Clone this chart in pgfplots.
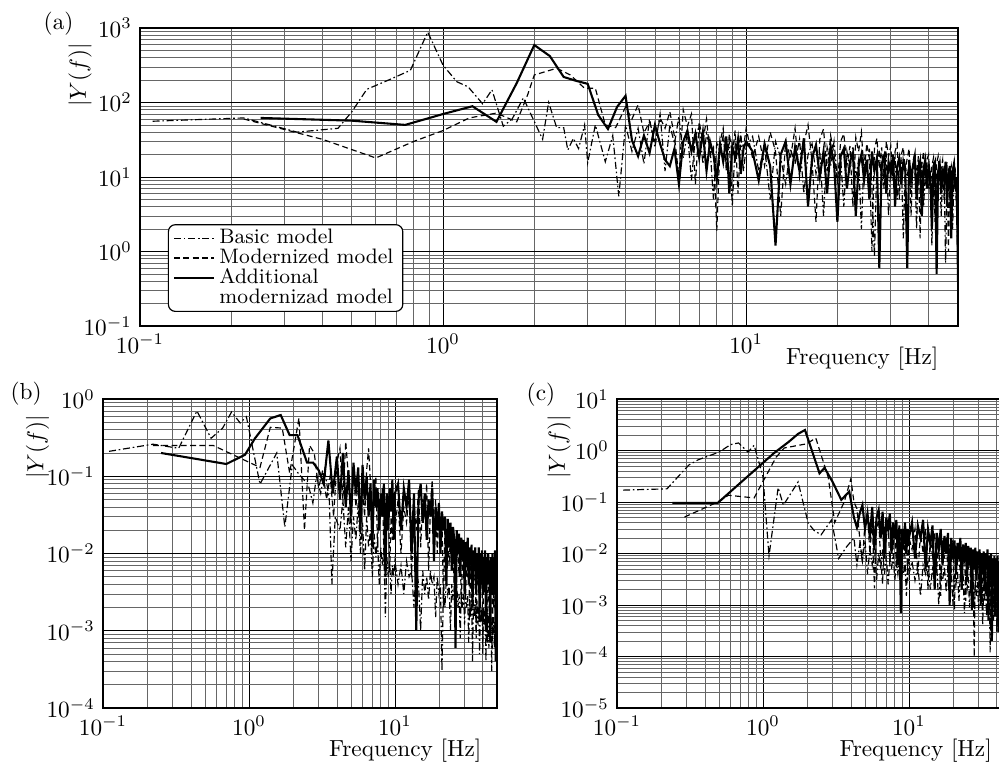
\documentclass[border=0pt]{standalone}
\usepackage{pgfplots}
\usepackage{pgfplotstable}
\pgfplotsset{compat=1.18}

\pgfplotstableread{
f B M A
0.11 56 nan nan
0.22 62 60 nan
0.25 nan nan 62
0.33 40 nan nan
0.40 nan 32 nan
0.45 45 nan nan
0.50 75 nan 57
0.56 150 nan nan
0.60 nan 18 nan
0.67 205 nan nan
0.75 nan nan 50
0.78 270 nan nan
0.80 nan 30 nan
0.89 880 nan nan
1.00 316 42 70
1.11 190 nan nan
1.21 162 nan nan
1.22 nan 62 nan
1.25 nan nan 89
1.35 96 nan nan
1.45 148 nan nan
1.50 nan 72 55
1.58 48 nan nan
1.69 60 nan nan
1.75 nan 55 182
1.84 115 nan nan
1.90 nan 126 nan
2.00 nan 234 590
2.13 32 nan nan
2.23 100 nan nan
2.25 nan nan 420
2.37 46 288 nan
2.50 46 nan 220
2.58 23 nan nan
2.63 nan 234 nan
2.69 33 nan nan
2.75 nan nan 195
2.80 24 nan nan
2.93 50 155 nan
3.00 15.5 nan 178
3.18 50 155 nan
3.25 nan nan 68
3.43 16 50 nan
3.50 nan nan 44
3.63 36 nan nan
3.71 nan 46 nan
3.75 nan nan 87
3.80 5.5 nan nan
4.00 50 87 123
4.2 22 60 31
4.4 45 93 19
4.6 15 39 36
4.8 60 55 21
5.0 25 30 50
5.2 70 62 28
5.4 12 45 17
5.6 50 75 14
5.8 28 35 24
6.0 65 10 8
6.2 18 80 30
6.4 40 48 42
6.6 9 70 22
6.8 35 8 38
7.0 48 55 18
7.2 15 30 40
7.4 38 60 12
7.6 25 20 30
7.8 5 25 20
8.0 30 1.9 9
8.2 22 30 28
8.4 36 45 16
8.6 14 12 35
8.8 30 38 6
9.0 4 20 26
9.2 28 42 18
9.4 20 6 32
9.6 40 33 11
9.8 12 25 24
10.0 25 45 30
10.5 35 18 22
11 12 35 9
11.5 26 14 28
12 5 40 14
12.5 30 22 1.2
13 18 3 20
13.5 8 30 30
14 24 18 8
14.5 15 45 25
15 32 10 12
15.5 6 28 33
16 20 50 4
16.5 28 16 18
17 11 2.5 27
17.5 22 32 10
18 3 44 22
18.5 25 12 6
19 14 36 26
19.5 30 20 15
20 9 8 2.5
20.5 18 30 19
21 4 38 24
21.5 22 14 7
22 13 26 16
22.5 26 4 21
23 10 34 3
23.5 17 22 14
24 2 40 20
24.5 20 11 9
25 12 28 17
25.5 24 18 5
26 7 1.0 22
26.5 0.85 24 12
27 16 33 18
27.5 21 13 0.6
28 8 25 15
28.5 14 7 19
29 19 30 6
29.5 3 19 16
30 15 26 11
30.5 12 9 20
31 18 22 4
31.5 5 28 14
32 13 5 18
32.5 17 20 8
33 1.5 25 16
33.5 14 12 12
34 10 18 0.6
34.5 16 24 17
35 6 3 9
35.5 12 16 14
36 15 21 19
36.5 2 10 5
37 13 19 12
37.5 9 1.5 16
38 16 15 3
38.5 4 22 13
39 11 8 17
39.5 14 17 7
40 7 20 15
40.5 12 6 10
41 1.2 14 2
41.5 10 18 14
42 13 2.5 16
42.5 5 15 0.5
43 11 19 12
43.5 14 9 15
44 3 13 6
44.5 10 17 13
45 12 5 9
45.5 0.7 12 16
46 9 16 4
46.5 13 1.0 11
47 6 11 14
47.5 11 14 1.5
48 2 7 12
48.5 10 13 15
49 12 10 7
49.5 4 3 10
50 0.6 8 0.4
}\tabA

\pgfplotstableread{
f B M A
0.11 0.21 nan nan
0.22 0.26 0.25 nan
0.25 nan nan 0.20
0.33 0.23 nan nan
0.44 0.70 nan nan
0.55 0.31 nan nan
0.57 nan 0.25 nan
0.66 0.42 nan nan
0.70 nan nan 0.144
0.76 0.68 nan nan
0.87 0.49 nan nan
0.94 nan nan 0.19
0.96 0.59 nan nan
1.10 nan nan 0.31
1.19 0.079 0.13 nan
1.40 nan 0.43 0.56
1.55 0.20 nan nan
1.65 nan nan 0.62
1.69 nan 0.42 nan
1.76 0.022 nan nan
1.90 nan 0.11 0.34
1.98 0.14 nan nan
2.15 nan nan 0.34
2.17 0.11 nan nan
2.20 nan 0.57 nan
2.40 nan 0.02 nan
2.50 nan nan 0.15
2.55 0.077 nan nan
2.60 nan 0.25 nan
2.74 0.045 nan nan
2.75 nan nan 0.15
2.80 nan 0.20 nan
2.90 0.10 nan nan
3.00 nan 0.07 0.12
3.10 0.06 nan nan
3.20 nan 0.12 nan
3.25 nan nan 0.08
3.30 0.12 nan nan
3.40 nan 0.05 nan
3.50 nan nan 0.29
3.55 0.05 nan nan
3.60 nan 0.10 nan
3.70 0.004 nan nan
3.75 nan nan 0.06
3.80 nan 0.03 nan
3.90 0.03 nan nan
4.00 nan 0.15 0.18
4.2 0.02 0.23 0.05
4.4 0.05 0.05 0.20
4.6 0.012 0.28 0.04
4.8 0.04 0.10 0.12
5.0 0.008 0.02 0.03
5.2 0.03 0.12 0.15
5.4 0.015 0.04 0.06
5.6 0.045 0.09 0.13
5.8 0.01 0.015 0.02
6.0 0.025 0.07 0.14
6.2 0.006 0.03 0.05
6.4 0.03 0.12 0.10
6.6 0.012 0.23 0.03
6.8 0.02 0.08 0.08
7.0 0.005 0.02 0.012
7.2 0.018 0.06 0.09
7.4 0.009 0.10 0.04
7.6 0.015 0.012 0.07
7.8 0.004 0.05 0.02
8.0 0.012 0.03 0.06
8.2 0.007 0.07 0.03
8.4 0.011 0.01 0.08
8.6 0.0015 0.04 0.005
8.8 0.009 0.02 0.06
9.0 0.005 0.05 0.02
9.2 0.008 0.006 0.07
9.4 0.003 0.03 0.035
9.6 0.007 0.015 0.09
9.8 0.005 0.04 0.015
10.0 0.008 0.02 0.06
10.5 0.004 0.05 0.08
11 0.007 0.01 0.02
11.5 0.003 0.04 0.07
12 0.008 0.025 0.04
12.5 0.005 0.06 0.09
13 0.006 0.005 0.01
13.5 0.002 0.045 0.06
14 0.007 0.02 0.001
14.5 0.004 0.07 0.05
15 0.001 0.012 0.08
15.5 0.006 0.05 0.025
16 0.003 0.03 0.06
16.5 0.005 0.08 0.015
17 0.0025 0.006 0.05
17.5 0.006 0.04 0.03
18 0.004 0.09 0.07
18.5 0.005 0.02 0.008
19 0.0015 0.05 0.04
19.5 0.005 0.01 0.02
20 0.003 0.035 0.045
20.5 0.004 0.02 0.01
21 0.0003 0.03 0.035
21.5 0.004 0.002 0.02
22 0.002 0.025 0.03
22.5 0.005 0.012 0.004
23 0.003 0.02 0.028
23.5 0.004 0.007 0.012
24 0.001 0.018 0.025
24.5 0.004 0.01 0.006
25 0.0025 0.016 0.022
25.5 0.0035 0.003 0.015
26 0.0015 0.014 0.0006
26.5 0.004 0.008 0.02
27 0.002 0.012 0.01
27.5 0.003 0.005 0.018
28 0.0008 0.011 0.005
28.5 0.0035 0.002 0.016
29 0.002 0.01 0.009
29.5 0.003 0.006 0.015
30 0.0012 0.009 0.003
30.5 0.003 0.003 0.014
31 0.002 0.008 0.008
31.5 0.0028 0.005 0.016
32 0.0007 0.009 0.004
32.5 0.0025 0.0015 0.012
33 0.0015 0.007 0.007
33.5 0.003 0.004 0.013
34 0.0004 0.008 0.002
34.5 0.0025 0.003 0.011
35 0.0015 0.006 0.006
35.5 0.0022 0.008 0.012
36 0.001 0.0008 0.003
36.5 0.0025 0.006 0.01
37 0.0012 0.004 0.005
37.5 0.002 0.007 0.012
38 0.0005 0.002 0.0015
38.5 0.0022 0.006 0.01
39 0.0013 0.004 0.006
39.5 0.002 0.007 0.011
40 0.0008 0.0005 0.003
40.5 0.002 0.005 0.009
41 0.0012 0.003 0.005
41.5 0.0018 0.006 0.011
42 0.0004 0.002 0.001
42.5 0.0018 0.005 0.009
43 0.001 0.0007 0.004
43.5 0.0017 0.004 0.01
44 0.0006 0.006 0.006
44.5 0.0016 0.002 0.008
45 0.001 0.005 0.0007
45.5 0.0015 0.003 0.009
46 0.0003 0.006 0.004
46.5 0.0014 0.0006 0.01
47 0.0009 0.004 0.003
47.5 0.0015 0.002 0.008
48 0.0006 0.005 0.005
48.5 0.0013 0.003 0.011
49 0.0008 0.001 0.0004
49.5 0.0012 0.004 0.007
50 0.0004 0.002 0.003
}\tabB

\pgfplotstableread{
f B M A
0.11 0.17 nan nan
0.22 0.18 nan nan
0.24 nan nan 0.096
0.29 nan 0.051 nan
0.31 0.52 nan nan
0.36 0.66 nan nan
0.49 nan 0.10 0.096
0.50 0.93 nan nan
0.58 nan 0.135 nan
0.60 1.3 nan nan
0.68 1.4 nan nan
0.79 0.93 nan nan
0.87 1.26 0.12 nan
1.00 0.31 nan nan
1.10 0.009 nan nan
1.19 nan nan 0.89
1.23 nan 0.74 nan
1.27 0.19 nan nan
1.38 0.087 nan nan
1.40 nan 1.12 nan
1.50 nan nan 1.47
1.74 0.245 nan 2.1
1.94 nan nan 2.5
2.00 nan 1.35 nan
2.04 0.039 nan nan
2.24 0.028 nan nan
2.30 nan 1.75 nan
2.44 nan nan 0.36
2.50 0.023 nan nan
2.64 nan nan 0.46
2.80 nan 0.30 nan
2.95 0.045 nan nan
3.00 nan nan 0.245
3.10 nan 0.04 nan
3.30 0.008 nan nan
3.44 nan nan 0.11
3.60 nan 0.10 nan
3.74 0.0135 nan nan
3.90 nan nan 0.16
4.00 nan 0.28 nan
4.2 0.02 0.10 0.05
4.4 0.006 0.074 0.032
4.6 0.015 0.02 0.06
4.8 0.007 0.007 0.087
5.0 0.018 0.04 0.03
5.2 0.004 0.06 0.06
5.4 0.012 0.01 0.02
5.6 0.006 0.05 0.08
5.8 0.014 0.0021 0.012
6.0 0.003 0.03 0.05
6.2 0.01 0.045 0.07
6.4 0.005 0.008 0.02
6.6 0.012 0.0026 0.065
6.8 0.004 0.035 0.008
7.0 0.009 0.02 0.05
7.2 0.0025 0.04 0.03
7.4 0.008 0.006 0.06
7.6 0.005 0.03 0.01
7.8 0.01 0.012 0.04
8.0 0.003 0.035 0.02
8.2 0.007 0.005 0.045
8.4 0.004 0.025 0.006
8.6 0.008 0.01 0.035
8.8 0.002 0.03 0.0007
9.0 0.006 0.004 0.03
9.2 0.004 0.02 0.015
9.4 0.007 0.008 0.04
9.6 0.0015 0.025 0.01
9.8 0.006 0.003 0.03
10.0 0.004 0.02 0.02
10.5 0.007 0.012 0.04
11 0.003 0.03 0.008
11.5 0.006 0.004 0.035
12 0.0015 0.025 0.02
12.5 0.006 0.01 0.045
13 0.004 0.03 0.005
13.5 0.007 0.002 0.03
14 0.002 0.02 0.015
14.5 0.005 0.009 0.035
15 0.003 0.025 0.002
15.5 0.006 0.005 0.025
16 0.001 0.02 0.012
16.5 0.005 0.0015 0.03
17 0.003 0.018 0.006
17.5 0.0055 0.008 0.022
18 0.0018 0.022 0.01
18.5 0.005 0.004 0.025
19 0.003 0.015 0.001
19.5 0.0045 0.007 0.02
20 0.001 0.018 0.008
20.5 0.004 0.0008 0.018
21 0.0025 0.014 0.004
21.5 0.0045 0.006 0.016
22 0.0012 0.015 0.009
22.5 0.004 0.003 0.02
23 0.002 0.012 0.002
23.5 0.0038 0.006 0.015
24 0.0007 0.013 0.007
24.5 0.0035 0.0012 0.016
25 0.002 0.011 0.003
25.5 0.0035 0.005 0.014
26 0.0009 0.012 0.006
26.5 0.003 0.002 0.013
27 0.0018 0.01 0.0008
27.5 0.0032 0.004 0.012
28 0.0006 0.0001 0.005
28.5 0.003 0.009 0.013
29 0.0015 0.005 0.003
29.5 0.0028 0.01 0.011
30 0.0008 0.002 0.006
30.5 0.0027 0.008 0.012
31 0.0015 0.004 0.001
31.5 0.0025 0.009 0.01
32 0.0004 0.0009 0.004
32.5 0.0024 0.007 0.011
33 0.0012 0.003 0.002
33.5 0.0025 0.008 0.01
34 0.0006 0.0015 0.005
34.5 0.0022 0.007 0.012
35 0.0012 0.003 0.0005
35.5 0.0022 0.008 0.009
36 0.00012 0.0004 0.004
36.5 0.002 0.006 0.01
37 0.001 0.003 0.0002
37.5 0.0021 0.007 0.008
38 0.0005 0.001 0.003
38.5 0.0019 0.006 0.009
39 0.001 0.0025 0.0006
39.5 0.002 0.007 0.008
40 0.0003 0.0003 0.004
40.5 0.0018 0.005 0.009
41 0.0009 0.002 0.0003
41.5 0.0018 0.006 0.007
42 0.0004 0.0008 0.003
42.5 0.0017 0.005 0.008
43 0.0009 0.002 0.001
43.5 0.0016 0.006 0.007
44 0.0003 0.0005 0.003
44.5 0.0015 0.005 0.008
45 0.0008 0.0015 0.0005
45.5 0.0016 0.005 0.006
46 0.0004 0.0003 0.003
46.5 0.0014 0.004 0.007
47 0.0007 0.0015 0.001
47.5 0.0015 0.005 0.006
48 0.0003 0.0006 0.002
48.5 0.0013 0.004 0.007
49 0.0007 0.0012 0.0004
49.5 0.0014 0.004 0.005
50 0.0003 0.0005 0.002
}\tabC

\pgfplotsset{
  every axis/.append style={
    xmode=log, ymode=log, scale only axis, anchor=south west,
    xmin=0.1, xmax=50,
    grid=both,
    major grid style={black, line width=0.35pt},
    minor grid style={black!60, line width=0.3pt},
    axis line style={line width=0.8pt},
    major tick length=0pt, minor tick length=0pt,
    xlabel={Frequency [Hz]},
    ylabel={$|Y(f)|$},
  },
}
\tikzset{
  basicsty/.style={black, line width=0.5pt, dash pattern=on 3pt off 1.2pt on 0.7pt off 1.2pt},
  modsty/.style={black, line width=0.5pt, dash pattern=on 2.5pt off 1.5pt},
  addsty/.style={black, line width=0.9pt},
}

\begin{document}
\begin{tikzpicture}
% panel (a)
\begin{axis}[
  at={(60.2pt,187.91pt)}, width=351.74pt, height=128.14pt,
  ymin=0.1, ymax=1000,
  ylabel style={at={(axis description cs:-0.0733,0.842)}, anchor=center},
  xlabel style={at={(axis description cs:0.883,-0.109)}, anchor=center},
  legend cell align=left,
  legend style={at={(axis description cs:0.034,0.047)}, anchor=south west,
    draw=black, line width=0.5pt, rounded corners=3pt, font=\small,
    row sep=-3.3pt, inner xsep=2pt, inner ysep=0pt},
]
\addplot[basicsty] table[x=f,y=B]{\tabA};
\addlegendentry{Basic model}
\addplot[modsty] table[x=f,y=M]{\tabA};
\addlegendentry{Modernized model}
\addplot[addsty] table[x=f,y=A]{\tabA};
\addlegendentry{Additional}
\addlegendimage{legend image code/.code={}}
\addlegendentry{modernizad model}
\end{axis}
% panel (b)
\begin{axis}[
  at={(44.29pt,23.65pt)}, width=169.42pt, height=132.87pt,
  ymin=1e-4, ymax=1,
  ytick={1e-4,1e-3,1e-2,1e-1,1},
  ylabel style={at={(axis description cs:-0.166,0.845)}, anchor=center},
  xlabel style={at={(axis description cs:0.767,-0.139)}, anchor=center},
]
\addplot[basicsty] table[x=f,y=B]{\tabB};
\addplot[modsty] table[x=f,y=M]{\tabB};
\addplot[addsty] table[x=f,y=A]{\tabB};
\end{axis}
% panel (c)
\begin{axis}[
  at={(265.31pt,23.65pt)}, width=169.42pt, height=132.87pt,
  ymin=1e-5, ymax=10,
  ytick={1e-5,1e-4,1e-3,1e-2,1e-1,1,10},
  ylabel style={at={(axis description cs:-0.147,0.845)}, anchor=center},
  xlabel style={at={(axis description cs:0.758,-0.139)}, anchor=center},
]
\addplot[basicsty] table[x=f,y=B]{\tabC};
\addplot[modsty] table[x=f,y=M]{\tabC};
\addplot[addsty] table[x=f,y=A]{\tabC};
\end{axis}
\node at (25.2pt,317.8pt) {(a)};
\node at (11.2pt,158.7pt) {(b)};
\node at (232.6pt,158.2pt) {(c)};
\pgfresetboundingbox
\useasboundingbox (0,0) rectangle (429.57pt,328.09pt);
\end{tikzpicture}
\end{document}
